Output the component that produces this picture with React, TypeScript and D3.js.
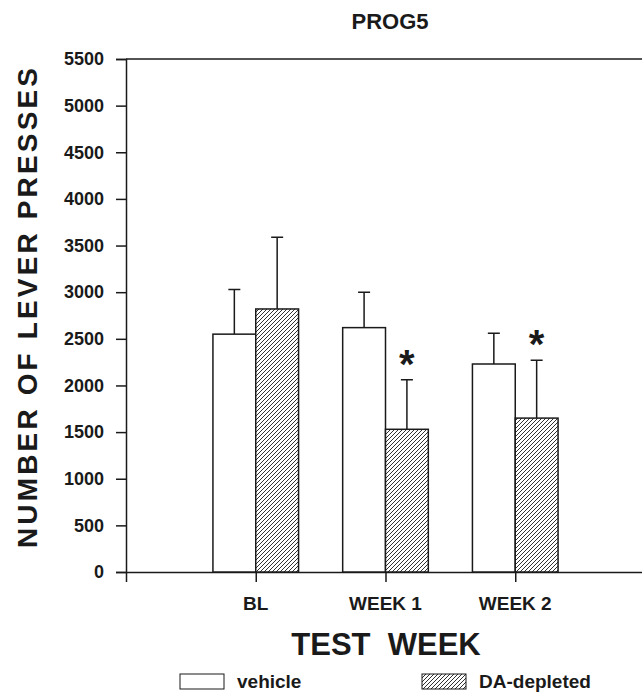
import React, { useRef, useEffect } from 'react';
import * as d3 from 'd3';

// Test weeks on the x axis
const categories: string[] = ['BL', 'WEEK 1', 'WEEK 2'];

// Mean lever presses and error bar (upper half) per group
const vehicle: number[] = [2550, 2620, 2230];
const vehicleErr: number[] = [480, 380, 330];
const daDepleted: number[] = [2820, 1530, 1650];
const daDepletedErr: number[] = [770, 530, 620];
const significant: boolean[] = [false, true, true];

const yTicks: number[] = d3.range(0, 5501, 500);

const FONT = '"Liberation Sans", Arial, Helvetica, sans-serif';
const INK = '#1a1a1a';

const App: React.FC = () => {
  const svgRef = useRef<SVGSVGElement>(null);
  const width = 642;
  const height = 694;

  useEffect(() => {
    if (!svgRef.current) return;
    const svg = d3.select(svgRef.current);
    svg.selectAll('*').remove();

    // scales
    const xScale = d3.scaleLinear().domain([0, 4]).range([126, 645]);
    const yScale = d3.scaleLinear().domain([0, 5500]).range([572, 59]);
    const unit = xScale(1) - xScale(0);
    const barW = unit * 0.33;

    // hatch pattern
    const defs = svg.append('defs');
    const pat = defs.append('pattern')
      .attr('id', 'hatch')
      .attr('patternUnits', 'userSpaceOnUse')
      .attr('width', 4)
      .attr('height', 4);
    pat.append('rect').attr('width', 4).attr('height', 4).attr('fill', 'white');
    pat.append('path')
      .attr('d', 'M-1,1 l2,-2 M0,4 l4,-4 M3,5 l2,-2')
      .attr('stroke', INK)
      .attr('stroke-width', 0.9);

    // title
    svg.append('text')
      .attr('x', 390)
      .attr('y', 29)
      .attr('text-anchor', 'middle')
      .style('font-family', FONT)
      .style('font-weight', 'bold')
      .style('font-size', '22px')
      .style('fill', INK)
      .text('PROG5');

    // top frame line
    svg.append('line')
      .attr('x1', xScale(0)).attr('x2', width)
      .attr('y1', yScale(5500)).attr('y2', yScale(5500))
      .attr('stroke', INK).attr('stroke-width', 1.5);

    // y axis
    const yAxis = svg.append('g')
      .attr('transform', `translate(${xScale(0)},0)`)
      .call(d3.axisLeft(yScale).tickValues(yTicks).tickSize(10).tickPadding(12).tickFormat(d => String(d)));
    yAxis.select('.domain').attr('stroke', INK).attr('stroke-width', 1.5);
    yAxis.selectAll('.tick line').attr('stroke', INK).attr('stroke-width', 1.5);
    yAxis.selectAll('text')
      .style('font-family', FONT)
      .style('font-weight', 'bold')
      .style('font-size', '18px')
      .style('fill', INK);

    // x axis (ticks at category boundaries)
    const xAxis = svg.append('g')
      .attr('transform', `translate(0,${yScale(0)})`)
      .call(d3.axisBottom(xScale).tickValues([0, 1, 2, 3, 4]).tickSize(10).tickFormat(() => '').tickSizeOuter(0));
    xAxis.select('.domain').attr('stroke', INK).attr('stroke-width', 1.5);
    xAxis.selectAll('.tick line').attr('stroke', INK).attr('stroke-width', 1.5);

    // category labels
    svg.append('g').selectAll('text')
      .data(categories)
      .enter().append('text')
      .attr('x', (d, i) => xScale(i + 1))
      .attr('y', 610)
      .attr('text-anchor', 'middle')
      .style('font-family', FONT)
      .style('font-weight', 'bold')
      .style('font-size', '19px')
      .style('fill', INK)
      .text(d => d);

    // bars
    const series = [
      { values: vehicle, err: vehicleErr, fill: 'white', offset: -1 },
      { values: daDepleted, err: daDepletedErr, fill: 'url(#hatch)', offset: 0 }
    ];
    series.forEach(s => {
      const g = svg.append('g');
      // error bars first, so the bar covers the stem
      g.selectAll('.err')
        .data(s.values)
        .enter().append('path')
        .attr('d', (d, i) => {
          const cx = xScale(i + 1) + s.offset * barW + barW / 2;
          const yTop = yScale(d + s.err[i]);
          return `M${cx},${yScale(d)}V${yTop}M${cx - 6},${yTop}H${cx + 6}`;
        })
        .attr('fill', 'none')
        .attr('stroke', INK)
        .attr('stroke-width', 1.5);
      g.selectAll('rect')
        .data(s.values)
        .enter().append('rect')
        .attr('x', (d, i) => xScale(i + 1) + s.offset * barW)
        .attr('y', d => yScale(d))
        .attr('width', barW)
        .attr('height', d => yScale(0) - yScale(d))
        .attr('fill', s.fill)
        .attr('stroke', INK)
        .attr('stroke-width', 1.5);
    });

    // significance stars
    svg.append('g').selectAll('text')
      .data(daDepleted.map((d, i) => ({ d, i })).filter(o => significant[o.i]))
      .enter().append('text')
      .attr('x', o => xScale(o.i + 1) + barW / 2)
      .attr('y', o => yScale(o.d + daDepletedErr[o.i]) - 2)
      .attr('text-anchor', 'middle')
      .style('font-family', FONT)
      .style('font-weight', 'bold')
      .style('font-size', '40px')
      .style('fill', INK)
      .text('*');

    // y axis title
    svg.append('text')
      .attr('transform', `translate(37,308) rotate(-90)`)
      .attr('text-anchor', 'middle')
      .attr('textLength', 480)
      .attr('lengthAdjust', 'spacing')
      .style('font-family', FONT)
      .style('font-weight', 'bold')
      .style('font-size', '28px')
      .style('fill', INK)
      .text('NUMBER OF LEVER PRESSES');

    // x axis title
    svg.append('text')
      .attr('x', 386)
      .attr('y', 655)
      .attr('text-anchor', 'middle')
      .style('font-family', FONT)
      .style('font-weight', 'bold')
      .style('font-size', '31px')
      .style('white-space', 'pre')
      .style('fill', INK)
      .text('TEST  WEEK');

    // legend
    const legendData = [
      { fill: 'white', text: 'vehicle', x: 180 },
      { fill: 'url(#hatch)', text: 'DA-depleted', x: 422 }
    ];
    const legend = svg.selectAll('.legend')
      .data(legendData)
      .enter().append('g')
      .attr('class', 'legend');
    legend.append('rect')
      .attr('x', d => d.x)
      .attr('y', 674)
      .attr('width', 44)
      .attr('height', 15)
      .attr('fill', d => d.fill)
      .attr('stroke', INK)
      .attr('stroke-width', 1);
    legend.append('text')
      .attr('x', d => d.x + 57)
      .attr('y', 688)
      .style('font-family', FONT)
      .style('font-weight', 'bold')
      .style('font-size', '19px')
      .style('fill', INK)
      .text(d => d.text);
  }, []);

  return (
    <svg
      ref={svgRef}
      width={width}
      height={height}
      style={{ position: 'absolute', left: 0, top: 0, background: 'white' }}
    ></svg>
  );
};

export default App;
